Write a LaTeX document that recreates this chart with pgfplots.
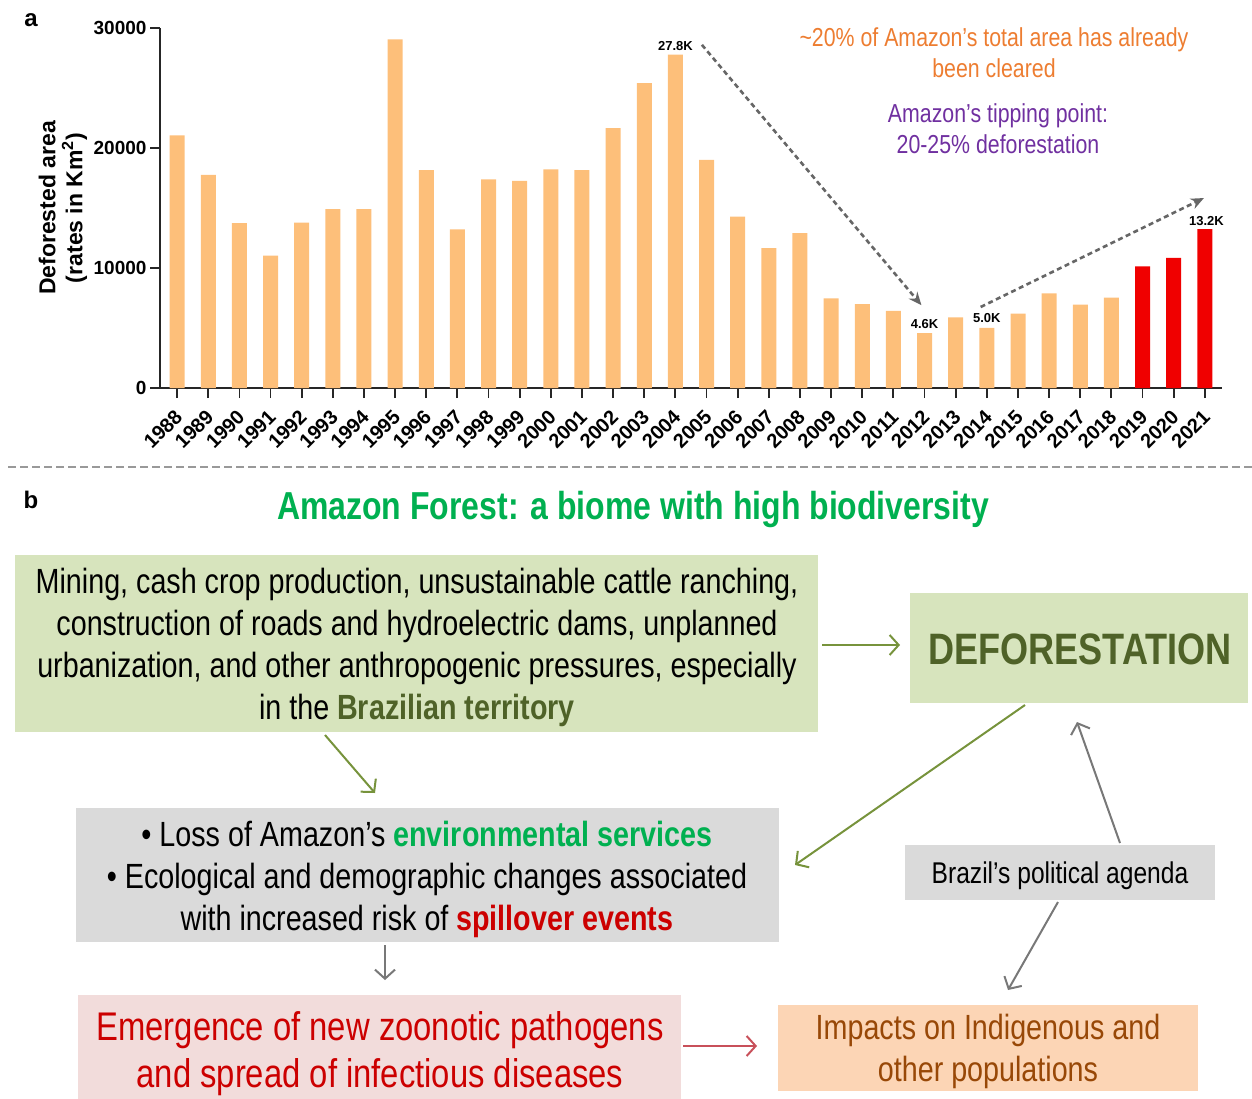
\documentclass[border=0pt]{standalone}
\usepackage{fontspec}
\setmainfont{Liberation Sans}
\newfontfamily\narrow[FakeStretch=0.82]{Liberation Sans}
\usepackage{pgfplots}
\pgfplotsset{compat=1.18}
\usetikzlibrary{arrows.meta}
\definecolor{barorange}{RGB}{253,191,122}
\definecolor{barred}{RGB}{240,0,0}
\definecolor{annorange}{RGB}{237,125,49}
\definecolor{annpurple}{RGB}{112,48,160}
\definecolor{boxgreen}{RGB}{215,228,189}
\definecolor{darkolive}{RGB}{79,98,40}
\definecolor{olivearrow}{RGB}{119,147,60}
\definecolor{boxgray}{RGB}{218,218,218}
\definecolor{boxpink}{RGB}{242,220,219}
\definecolor{textred}{RGB}{204,0,0}
\definecolor{arrowred}{RGB}{200,80,90}
\definecolor{boxorange}{RGB}{252,213,181}
\definecolor{textbrown}{RGB}{152,72,7}
\definecolor{titlegreen}{RGB}{0,176,80}
\definecolor{arrowgray}{RGB}{120,120,120}
\pgfplotstableread{
year value
1988 21050
1989 17770
1990 13730
1991 11030
1992 13786
1993 14896
1994 14896
1995 29059
1996 18161
1997 13227
1998 17383
1999 17259
2000 18226
2001 18165
2002 21651
2003 25396
2004 27772
2005 19014
2006 14286
2007 11651
2008 12911
2009 7464
2010 7000
2011 6418
2012 4571
2013 5891
2014 5012
2015 6207
2016 7893
2017 6947
2018 7536
}\orangedata
\pgfplotstableread{
year value
2019 10129
2020 10851
2021 13235
}\reddata
\begin{document}
\begin{tikzpicture}
\begin{axis}[
  at={(160pt,-388pt)}, anchor=south west,
  width=1062pt, height=360pt, scale only axis,
  xmin=1987.45, xmax=2021.55, ymin=0, ymax=30000,
  axis lines*=left,
  axis line style={line width=1.8pt, black!85},
  ybar, bar width=15pt,
  xtick={1988,...,2021}, ytick={0,10000,20000,30000},
  tick align=outside, major tick length=10pt,
  tick style={line width=1.8pt, black!85},
  /pgf/number format/1000 sep={},
  /pgf/number format/assume math mode=true,
  scaled y ticks=false,
  yticklabel style={font=\bfseries\fontsize{19}{19}\selectfont, xshift=0pt},
  xticklabel style={font=\bfseries\fontsize{20}{20}\selectfont, xshift=4pt, yshift=-13pt, rotate=45, anchor=east},
  ylabel={Deforested area\\(rates in Km\textsuperscript{2})},
  ylabel style={at={(axis description cs:-0.0915,0.5)}, anchor=center, align=center, font=\bfseries\fontsize{23}{27}\selectfont},
  clip=false,
]
\addplot[fill=barorange, draw=none, bar shift=0pt] table[x=year,y=value] {\orangedata};
\addplot[fill=barred, draw=none, bar shift=0pt] table[x=year,y=value] {\reddata};
\node[font=\bfseries\fontsize{13}{13}\selectfont] at (axis cs:2004,28500) {27.8K};
\node[font=\bfseries\fontsize{13}{13}\selectfont] at (axis cs:2012,5350) {4.6K};
\node[font=\bfseries\fontsize{13}{13}\selectfont] at (axis cs:2014,5800) {5.0K};
\node[font=\bfseries\fontsize{13}{13}\selectfont] at (axis cs:2021.05,13900) {13.2K};
\draw[line width=2.6pt, black!60, dash pattern=on 5pt off 3.5pt, -{Stealth[length=13pt,width=11pt]}] (axis cs:2004.85,28600) -- (axis cs:2011.9,6900);
\draw[line width=2.6pt, black!60, dash pattern=on 5pt off 3.5pt, -{Stealth[length=13pt,width=11pt]}] (axis cs:2013.8,6750) -- (axis cs:2020.97,15830);
\end{axis}
\begin{scope}[x=1pt,y=1pt]
% panel a annotations
\node[font=\bfseries\fontsize{24}{24}\selectfont] at (31,-20) {a};
\node[font=\narrow\fontsize{26}{31}\selectfont, text=annorange, align=center] at (994,-53) {\textasciitilde20\% of Amazon’s total area has already\\been cleared};
\node[font=\narrow\fontsize{26}{31}\selectfont, text=annpurple, align=center] at (998,-129) {Amazon’s tipping point:\\20-25\% deforestation};
% separator
\draw[line width=2pt, black!40, dash pattern=on 8pt off 4pt] (8,-467) -- (1252,-467);
% panel b
\node[font=\bfseries\fontsize{24}{24}\selectfont] at (31,-500) {b};
\node[font=\narrow\bfseries\fontsize{39}{39}\selectfont, text=titlegreen] at (633,-509) {Amazon Forest: a biome with high biodiversity};
% box 1
\fill[boxgreen] (15,-555) rectangle (818,-732);
\node[font=\narrow\fontsize{35}{42}\selectfont, align=center] at (417,-647) {Mining, cash crop production, unsustainable cattle ranching,\\construction of roads and hydroelectric dams, unplanned\\urbanization, and other anthropogenic pressures, especially\\in the {\bfseries\color{darkolive}Brazilian territory}};
% deforestation box
\fill[boxgreen] (910,-593) rectangle (1248,-703);
\node[font=\narrow\bfseries\fontsize{44}{44}\selectfont, text=darkolive] at (1080,-649) {DEFORESTATION};
% gray box 2
\fill[boxgray] (76,-808) rectangle (779,-942);
\node[font=\narrow\fontsize{35}{42}\selectfont, align=center] at (427,-879) {• Loss of Amazon’s {\bfseries\color{titlegreen}environmental services}\\• Ecological and demographic changes associated\\with increased risk of {\bfseries\color{textred}spillover events}};
% pink box
\fill[boxpink] (78,-995) rectangle (681,-1110);
\node[font=\narrow\fontsize{40}{47}\selectfont, align=center, text=textred] at (380,-1054) {Emergence of new zoonotic pathogens\\and spread of infectious diseases};
% orange box
\fill[boxorange] (778,-1005) rectangle (1198,-1091);
\node[font=\narrow\fontsize{35}{42}\selectfont, align=center, text=textbrown] at (988,-1051) {Impacts on Indigenous and\\other populations};
% brazil box
\fill[boxgray] (905,-845) rectangle (1215,-900);
\node[font=\narrow\fontsize{30}{30}\selectfont] at (1060,-876) {Brazil’s political agenda};
% arrows
\draw[line width=2pt, olivearrow, -{Straight Barb[length=9pt,width=20pt]}] (822,-645) -- (900,-645);
\draw[line width=2pt, olivearrow, -{Straight Barb[length=9pt,width=20pt]}] (325,-735) -- (375,-793);
\draw[line width=2pt, olivearrow, -{Straight Barb[length=9pt,width=20pt]}] (1025,-705) -- (795,-865);
\draw[line width=2pt, arrowgray, -{Straight Barb[length=9pt,width=20pt]}] (385,-945) -- (385,-980);
\draw[line width=2pt, arrowred, -{Straight Barb[length=9pt,width=20pt]}] (683,-1046) -- (757,-1046);
\draw[line width=2pt, arrowgray, -{Straight Barb[length=9pt,width=20pt]}] (1120,-843) -- (1077,-722);
\draw[line width=2pt, arrowgray, -{Straight Barb[length=9pt,width=20pt]}] (1058,-902) -- (1008,-990);
\pgfresetboundingbox
\path[use as bounding box] (0,0) rectangle (1252,-1099);
\end{scope}
\end{tikzpicture}
\end{document}
